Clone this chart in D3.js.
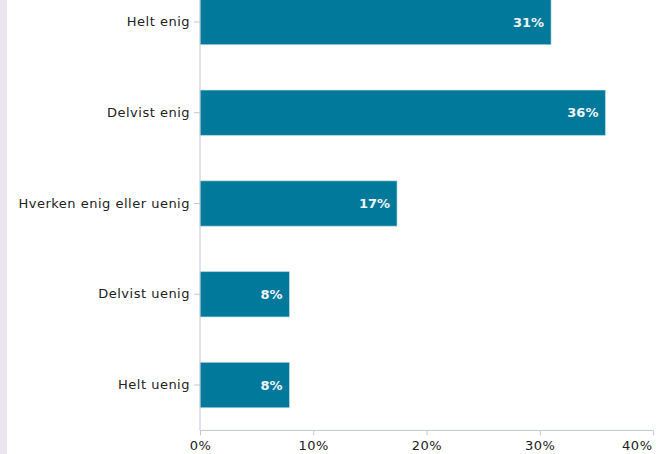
<!DOCTYPE html>
<html><head><meta charset="utf-8">
<script src="https://cdn.jsdelivr.net/npm/d3@7"></script>
<style>html,body{margin:0;padding:0;background:#fff;overflow:hidden}</style>
</head><body>
<svg id="c" width="656" height="454"></svg>
<script>
const categories = ["Helt enig","Delvist enig","Hverken enig eller uenig","Delvist uenig","Helt uenig"];
const values = [31, 35.8, 17.4, 7.9, 7.9];
const valueLabels = ["31%","36%","17%","8%","8%"];
const xTicks = [0,10,20,30,40];

(function(){
const svg = d3.select("#c");
const font = "DejaVu Sans, Verdana, sans-serif";
svg.append("rect").attr("x",0).attr("y",0).attr("width",7).attr("height",454).attr("fill","#ebe6ef");

const mLeft = 200, mRight = 653, mTop = -23.4, mBottom = 430.4;
const x = d3.scaleLinear().domain([0,40]).range([mLeft,mRight]);
const y = d3.scaleBand().domain(categories).range([mTop,mBottom]).paddingInner(0.5).paddingOuter(0.25);

svg.selectAll("rect.bar").data(categories).join("rect").attr("class","bar")
  .attr("x", x(0)).attr("y", d=>y(d)).attr("width",(d,i)=>x(values[i])-x(0)).attr("height",y.bandwidth())
  .attr("fill","#00799a").attr("stroke","#c8dde6").attr("stroke-width",1).attr("stroke-opacity",0.6);

svg.selectAll("text.vl").data(categories).join("text").attr("class","vl")
  .attr("x",(d,i)=>x(values[i])-7).attr("y",d=>y(d)+y.bandwidth()/2).attr("dy","0.35em")
  .attr("text-anchor","end").attr("font-family",font).attr("font-size",13).attr("font-weight","bold")
  .attr("fill","#eef4f7").text((d,i)=>valueLabels[i]);

const ya = svg.append("g").attr("transform",`translate(${mLeft},0)`)
  .call(d3.axisLeft(y).tickSize(6).tickPadding(4));
ya.select(".domain").attr("stroke","#c0c8d4").attr("d",`M0,${-10}V${mBottom}`);
ya.selectAll(".tick line").attr("stroke","#c0c8d4");
ya.selectAll(".tick text").attr("font-family",font).attr("font-size",13).attr("letter-spacing","0.5px").attr("fill","#222");

const xa = svg.append("g").attr("transform",`translate(0,${mBottom})`)
  .call(d3.axisBottom(x).tickValues(xTicks).tickFormat(d=>d+"%").tickSize(5).tickPadding(5));
xa.select(".domain").attr("stroke","#c0c8d4").attr("d",`M${mLeft},0H${mRight}`);
xa.selectAll(".tick line").attr("stroke","#c0c8d4");
xa.selectAll(".tick text").attr("font-family",font).attr("font-size",13).attr("letter-spacing","0.5px").attr("fill","#222");
xa.selectAll(".tick").filter(d=>d===40).select("text").attr("text-anchor","end").attr("x",-1);
})();
</script>
</body></html>
